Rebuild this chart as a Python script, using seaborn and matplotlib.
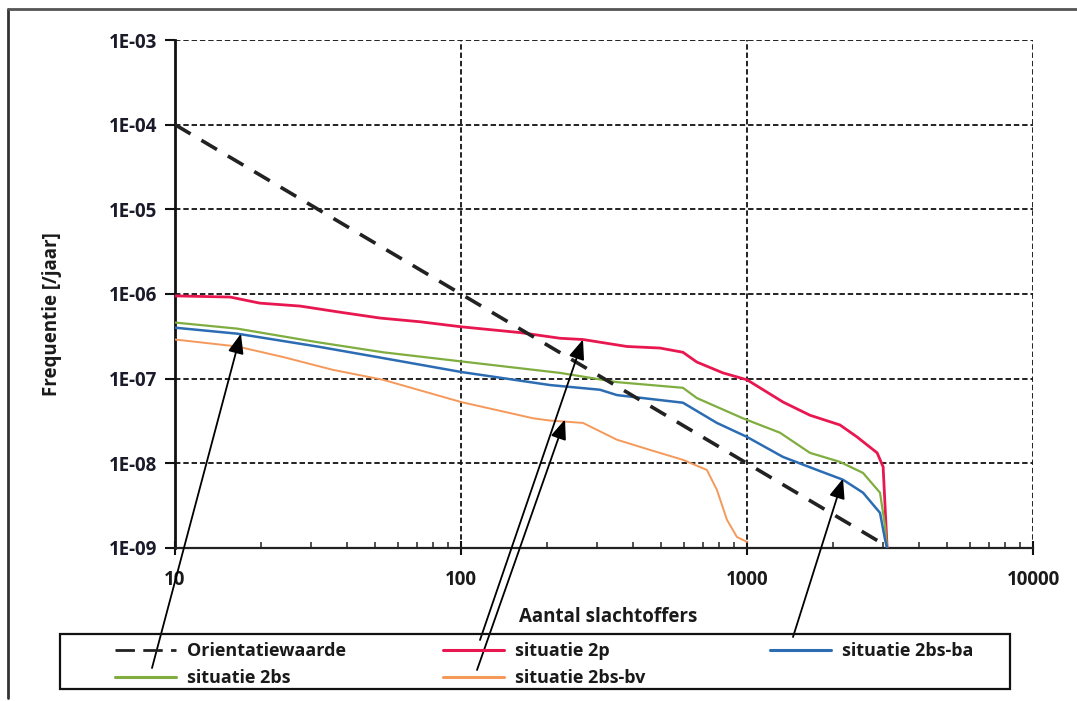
import numpy as np
import pandas as pd
import matplotlib
matplotlib.use("Agg")
import matplotlib.pyplot as plt
from matplotlib.ticker import FixedLocator, LogLocator, NullFormatter
from matplotlib.lines import Line2D
from matplotlib.patches import Rectangle
import seaborn as sns

# ---------------- data ----------------
orient_n = [10, 100, 1000, 3100]
orient_f = [1e-4, 1e-6, 1e-8, 1.04e-9]

red_n = [10, 15.6, 19.8, 27.4, 37.7, 52.1, 71.9, 100, 161, 222, 267, 380, 496, 597, 668, 824, 1000,
         1336, 1660, 2114, 2425, 2851, 2992, 3090]
red_f = [9.5e-7, 9.2e-7, 7.8e-7, 7.2e-7, 6.1e-7, 5.2e-7, 4.7e-7, 4.1e-7, 3.5e-7, 3.0e-7, 2.9e-7,
         2.4e-7, 2.3e-7, 2.05e-7, 1.57e-7, 1.17e-7, 9.7e-8, 5.3e-8, 3.7e-8, 2.84e-8, 2.05e-8,
         1.33e-8, 9.1e-9, 1e-9]

green_n = [10, 16.5, 31.4, 53.4, 100, 222, 351, 597, 668, 968, 1304, 1660, 2114, 2545, 2918, 3040, 3090]
green_f = [4.6e-7, 3.9e-7, 2.7e-7, 2.05e-7, 1.6e-7, 1.17e-7, 9.1e-8, 7.8e-8, 5.9e-8, 3.4e-8, 2.3e-8,
           1.33e-8, 1.04e-8, 7.7e-9, 4.5e-9, 1.8e-9, 1e-9]

blue_n = [10, 16.5, 31.4, 53.4, 100, 205, 306, 351, 597, 785, 1000, 1336, 1757, 2166, 2545, 2918, 3040, 3090]
blue_f = [4.0e-7, 3.4e-7, 2.4e-7, 1.75e-7, 1.2e-7, 8.4e-8, 7.4e-8, 6.4e-8, 5.2e-8, 3.0e-8, 2.05e-8,
          1.19e-8, 8.35e-9, 6.4e-9, 4.5e-9, 2.6e-9, 1.25e-9, 1e-9]

orange_n = [10, 16.5, 23.9, 35.7, 53.4, 100, 179, 205, 267, 351, 458, 597, 724, 785, 851, 922, 1000]
orange_f = [2.9e-7, 2.4e-7, 1.8e-7, 1.27e-7, 9.7e-8, 5.3e-8, 3.4e-8, 3.2e-8, 3.0e-8, 1.9e-8, 1.44e-8,
            1.1e-8, 8.35e-9, 4.85e-9, 2.15e-9, 1.35e-9, 1.18e-9]

series_names = ["Orientatiewaarde", "situatie 2p", "situatie 2bs-ba", "situatie 2bs", "situatie 2bs-bv"]
x_ticks = [10, 100, 1000, 10000]
x_tick_labels = ["10", "100", "1000", "10000"]
y_ticks = [1e-9, 1e-8, 1e-7, 1e-6, 1e-5, 1e-4, 1e-3]
y_tick_labels = ["1E-09", "1E-08", "1E-07", "1E-06", "1E-05", "1E-04", "1E-03"]

# arrow targets (data coords) per annotated series
arrow_targets = {
    "situatie 2bs": (17, 3.4e-7),
    "situatie 2p": (267, 2.9e-7),
    "situatie 2bs-bv": (231, 3.3e-8),
    "situatie 2bs-ba": (2166, 6.6e-9),
}

# ---------------- style ----------------
sns.set_theme(style="white")
FONT = ["Open Sans", "DejaVu Sans"]
plt.rcParams["font.family"] = FONT
WEIGHT = "bold"

fig = plt.figure(figsize=(10.77, 7.01), dpi=100)
W, H = 1077, 701
ax = fig.add_axes([175 / W, 1 - 548 / H, (1033 - 175) / W, (548 - 40) / H])

colors = {
    "situatie 2p": "#e8174f",
    "situatie 2bs": "#7fad3f",
    "situatie 2bs-ba": "#2b6cb3",
    "situatie 2bs-bv": "#f5995a",
}

sns.lineplot(x=orient_n, y=orient_f, ax=ax, color="#222222", lw=2.6,
             estimator=None, sort=False, zorder=5)
ax.lines[-1].set_dashes((5, 3.5))
sns.lineplot(x=red_n, y=red_f, ax=ax, color=colors["situatie 2p"], lw=2.0, estimator=None, sort=False, zorder=4)
sns.lineplot(x=green_n, y=green_f, ax=ax, color=colors["situatie 2bs"], lw=1.6, estimator=None, sort=False, zorder=4)
sns.lineplot(x=blue_n, y=blue_f, ax=ax, color=colors["situatie 2bs-ba"], lw=1.8, estimator=None, sort=False, zorder=4)
sns.lineplot(x=orange_n, y=orange_f, ax=ax, color=colors["situatie 2bs-bv"], lw=1.4, estimator=None, sort=False, zorder=4)

ax.set_xscale("log")
ax.set_yscale("log")
ax.set_xlim(10, 10000)
ax.set_ylim(1e-9, 1e-3)

ax.xaxis.set_major_locator(FixedLocator(x_ticks))
ax.set_xticklabels(x_tick_labels)
ax.xaxis.set_minor_locator(LogLocator(base=10, subs=np.arange(2, 10)))
ax.xaxis.set_minor_formatter(NullFormatter())
ax.yaxis.set_major_locator(FixedLocator(y_ticks))
ax.set_yticklabels(y_tick_labels)
ax.yaxis.set_minor_locator(FixedLocator([]))

ax.grid(True, which="major", color="#111111", linestyle=(0, (3, 1.6)), linewidth=1.3)
for s in ["top", "right"]:
    ax.spines[s].set_visible(False)
ax.spines["left"].set_color("#111111")
ax.spines["left"].set_linewidth(2.0)
ax.spines["bottom"].set_color("#222222")
ax.spines["bottom"].set_linewidth(1.6)

ax.tick_params(axis="y", which="major", direction="out", length=7, width=1.5, color="#111111",
               labelsize=13.5, labelcolor="#1a1a2a", pad=6, left=True)
ax.tick_params(axis="x", which="major", direction="inout", length=10, width=1.5, color="#111111",
               labelsize=13.5, labelcolor="#1a1a1a", pad=11, bottom=True)
ax.tick_params(axis="x", which="minor", direction="in", length=4, width=1.2, color="#333333", bottom=True)
for lab in ax.get_xticklabels() + ax.get_yticklabels():
    lab.set_fontweight(WEIGHT)

ax.set_xlabel("Aantal slachtoffers", fontsize=13.5, fontweight=WEIGHT, color="#1a1a1a")
ax.set_ylabel("Frequentie [/jaar]", fontsize=13.5, fontweight=WEIGHT, color="#1a1a1a")
ax.xaxis.set_label_coords((608 - 175) / 858, -(617 - 548) / 508)
ax.xaxis.label.set_va("center")
ax.yaxis.set_label_coords(-(175 - 52) / 858, (548 - 314) / 508)
ax.yaxis.label.set_va("center")

# legend: one frame, three columns placed at the reference positions
fig.add_artist(Rectangle((60 / W, 1 - 689 / H), (1010 - 60) / W, (689 - 634) / H,
                         transform=fig.transFigure, fill=False, edgecolor="#111111", lw=1.6))
handles = {
    "Orientatiewaarde": Line2D([], [], color="#222222", lw=2.0, dashes=(7, 3)),
    "situatie 2bs": Line2D([], [], color=colors["situatie 2bs"], lw=2.2),
    "situatie 2p": Line2D([], [], color=colors["situatie 2p"], lw=2.2),
    "situatie 2bs-bv": Line2D([], [], color=colors["situatie 2bs-bv"], lw=2.2),
    "situatie 2bs-ba": Line2D([], [], color=colors["situatie 2bs-ba"], lw=2.2),
}
columns = [
    ([series_names[0], series_names[3]], 115),
    ([series_names[1], series_names[4]], 443),
    ([series_names[2]], 770),
]
for names, x0 in columns:
    leg = fig.legend([handles[n] for n in names], names, loc="upper left",
                     bbox_to_anchor=(x0 / W, 1 - 642 / H), frameon=False, fontsize=13,
                     handlelength=3.4, handletextpad=0.6, borderpad=0.0, labelspacing=0.5,
                     borderaxespad=0.0)
    for t in leg.get_texts():
        t.set_fontweight(WEIGHT)
        t.set_color("#1a1a1a")

# arrows from legend to curves
tails_px = {
    "situatie 2bs": (152, 668),
    "situatie 2p": (480, 640),
    "situatie 2bs-bv": (477, 670),
    "situatie 2bs-ba": (793, 637),
}
for name, (tx, ty) in tails_px.items():
    ax.annotate("", xy=arrow_targets[name], xycoords="data",
                xytext=(tx / W, 1 - ty / H), textcoords="figure fraction",
                arrowprops=dict(arrowstyle="-|>,head_length=1.0,head_width=0.4", color="black",
                                lw=1.3, shrinkA=0, shrinkB=0),
                annotation_clip=False, zorder=10)

# outer frame of the scanned figure
fig.add_artist(Line2D([8 / W, 8 / W], [1 - 9 / H, 1 - 698 / H], color="#333333", lw=2.0,
                      transform=fig.transFigure))
fig.add_artist(Line2D([8 / W, 1.0], [1 - 9 / H, 1 - 9 / H], color="#555555", lw=2.0,
                      transform=fig.transFigure))

fig.savefig("out.png", dpi=100, facecolor="white")
